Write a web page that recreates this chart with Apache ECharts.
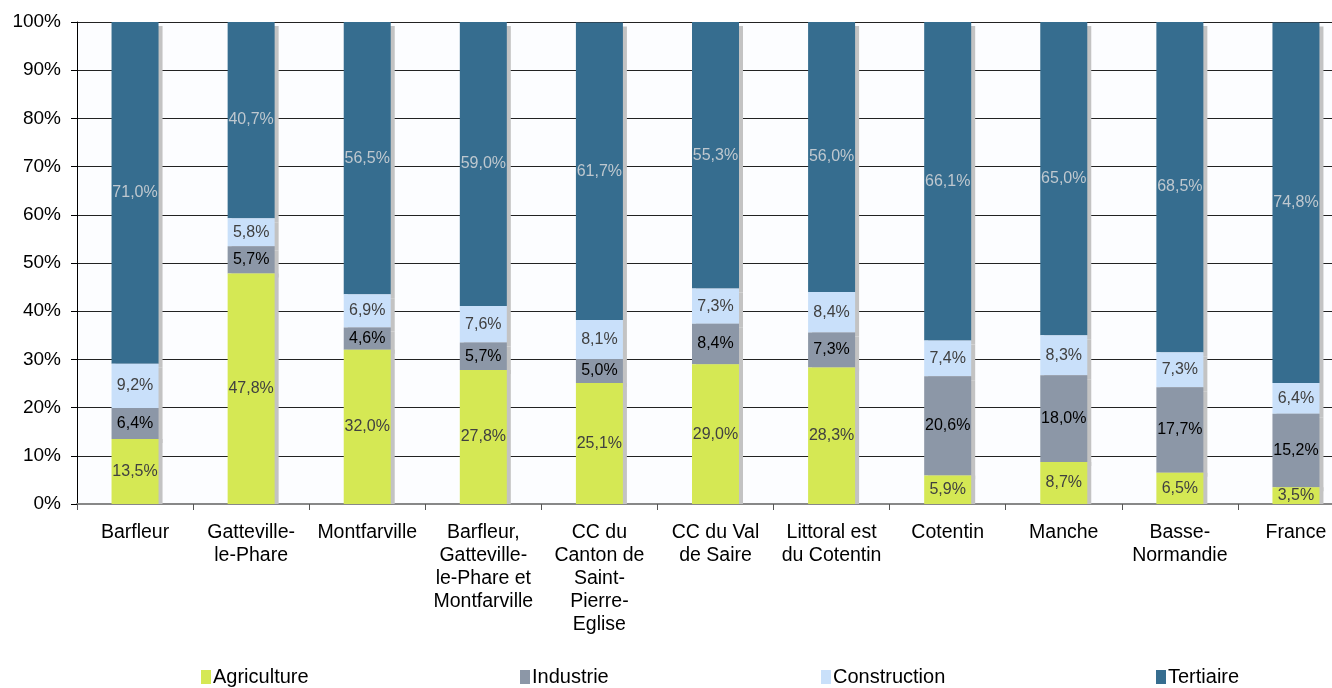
<!DOCTYPE html>
<html>
<head>
<meta charset="utf-8">
<script src="https://cdn.jsdelivr.net/npm/echarts@6/dist/echarts.min.js"></script>
<style>
html, body { margin: 0; padding: 0; background: #fff; }
#chart { width: 1332px; height: 688px; }
</style>
</head>
<body>
<div id="chart"></div>
<script>
// territoires
const categories = [
  'Barfleur', 'Gatteville-\nle-Phare', 'Montfarville',
  'Barfleur,\nGatteville-\nle-Phare et\nMontfarville',
  'CC du\nCanton de\nSaint-\nPierre-\nEglise',
  'CC du Val\nde Saire', 'Littoral est\ndu Cotentin', 'Cotentin',
  'Manche', 'Basse-\nNormandie', 'France'
];
const agriculture = [13.5, 47.8, 32.0, 27.8, 25.1, 29.0, 28.3, 5.9, 8.7, 6.5, 3.5];
const industrie = [6.4, 5.7, 4.6, 5.7, 5.0, 8.4, 7.3, 20.6, 18.0, 17.7, 15.2];
const construction = [9.2, 5.8, 6.9, 7.6, 8.1, 7.3, 8.4, 7.4, 8.3, 7.3, 6.4];
const tertiaire = [71.0, 40.7, 56.5, 59.0, 61.7, 55.3, 56.0, 66.1, 65.0, 68.5, 74.8];
const yTicks = [0, 10, 20, 30, 40, 50, 60, 70, 80, 90, 100];

const FONT = 'Liberation Sans, Arial, sans-serif';

function pct(p) {
  return p.value.toFixed(1).replace('.', ',') + '%';
}

function makeSerie(name, data, color, labelColor, z, offY) {
  return {
    name: name,
    type: 'bar',
    stack: 'total',
    barWidth: 47,
    z: z,
    data: data,
    itemStyle: {
      color: color,
      shadowColor: '#c3c3c3',
      shadowBlur: 0,
      shadowOffsetX: 4,
      shadowOffsetY: offY
    },
    label: {
      show: true,
      position: 'inside',
      color: labelColor,
      fontSize: 16,
      fontFamily: FONT,
      formatter: pct
    },
    emphasis: { disabled: true }
  };
}

function legendAt(name, left) {
  return {
    data: [name],
    left: left,
    top: 667,
    itemWidth: 10,
    itemHeight: 14,
    icon: 'rect',
    padding: 0,
    textStyle: { color: '#000', fontSize: 20, fontFamily: FONT, padding: [0, 0, 0, -3] }
  };
}

const chart = echarts.init(document.getElementById('chart'), null, { renderer: 'canvas' });
chart.setOption({
  animation: false,
  backgroundColor: '#fff',
  legend: [
    legendAt('Agriculture', 201),
    legendAt('Industrie', 520),
    legendAt('Construction', 821),
    legendAt('Tertiaire', 1156)
  ],
  grid: {
    left: 77,
    top: 22,
    width: 1277,
    height: 482,
    outerBoundsMode: 'none',
    containLabel: false,
    show: true,
    backgroundColor: '#fcfdff',
    borderWidth: 0
  },
  xAxis: {
    type: 'category',
    data: categories,
    axisLine: { lineStyle: { color: '#888', width: 2 } },
    axisTick: { show: true, length: 6, lineStyle: { color: '#555' } },
    axisLabel: {
      interval: 0,
      color: '#000',
      fontSize: 19.5,
      fontFamily: FONT,
      lineHeight: 23,
      margin: 17
    }
  },
  yAxis: {
    type: 'value',
    min: 0,
    max: 100,
    interval: 10,
    axisLine: { show: true, lineStyle: { color: '#000' } },
    axisTick: { show: true, length: 6, lineStyle: { color: '#000' } },
    axisLabel: {
      color: '#000',
      fontSize: 19,
      fontFamily: FONT,
      margin: 16,
      formatter: function (v) { return yTicks.indexOf(v) >= 0 ? v + '%' : ''; }
    },
    splitLine: { lineStyle: { color: '#222', width: 1 } }
  },
  series: [
    makeSerie('Agriculture', agriculture, '#d5e854', '#404040', 5, 0),
    makeSerie('Industrie', industrie, '#8c97a7', '#000', 4, 4),
    makeSerie('Construction', construction, '#c9e0fa', '#404040', 3, 4),
    makeSerie('Tertiaire', tertiaire, '#366d8f', '#bfc8cf', 2, 4)
  ]
});
</script>
</body>
</html>
